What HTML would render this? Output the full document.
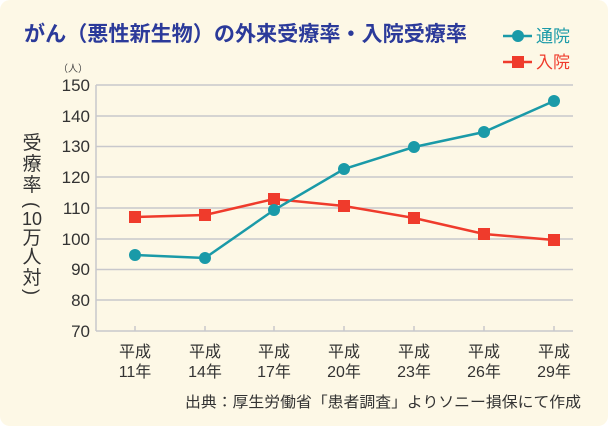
<!DOCTYPE html>
<html><head><meta charset="utf-8"><style>
html,body{margin:0;padding:0;background:#fff;}
body{width:608px;height:426px;overflow:hidden;}
</style></head><body>
<svg width="608" height="426" xmlns="http://www.w3.org/2000/svg" style="font-family:'Liberation Sans','Noto Sans CJK JP',sans-serif">
<rect x="0" y="0" width="608" height="426" rx="10" fill="#fdf8e6"/>
<text x="24" y="41" font-size="21" font-weight="bold" fill="#2b3a9a" textLength="443" lengthAdjust="spacingAndGlyphs">がん（悪性新生物）の外来受療率・入院受療率</text>
<line x1="503" y1="36" x2="532" y2="36" stroke="#1a9aa8" stroke-width="2.5"/>
<circle cx="518" cy="36" r="6" fill="#1a9aa8"/>
<text x="536" y="42" font-size="17" fill="#1a9aa8">通院</text>
<line x1="503" y1="62" x2="532" y2="62" stroke="#ef3b2c" stroke-width="2.5"/>
<rect x="512" y="56" width="12" height="12" fill="#ef3b2c"/>
<text x="536" y="68" font-size="17" fill="#ef3b2c">入院</text>
<text x="58" y="72" font-size="10" fill="#444">（人）</text>
<g stroke="#c8c8cc" stroke-width="1.5">
<line x1="96" y1="85" x2="573" y2="85"/><line x1="96" y1="116" x2="573" y2="116"/>
<line x1="96" y1="146.5" x2="573" y2="146.5"/><line x1="96" y1="177" x2="573" y2="177"/>
<line x1="96" y1="208" x2="573" y2="208"/><line x1="96" y1="239" x2="573" y2="239"/>
<line x1="96" y1="269.5" x2="573" y2="269.5"/><line x1="96" y1="300" x2="573" y2="300"/>
<line x1="96" y1="331" x2="573" y2="331"/><line x1="96" y1="85" x2="96" y2="331"/>
<line x1="135" y1="326" x2="135" y2="331"/><line x1="205" y1="326" x2="205" y2="331"/>
<line x1="274" y1="326" x2="274" y2="331"/><line x1="344" y1="326" x2="344" y2="331"/>
<line x1="414" y1="326" x2="414" y2="331"/><line x1="484" y1="326" x2="484" y2="331"/>
<line x1="554" y1="326" x2="554" y2="331"/>
</g>
<g font-size="17" fill="#333" text-anchor="end">
<text x="90" y="91">150</text><text x="90" y="122">140</text><text x="90" y="152">130</text>
<text x="90" y="183">120</text><text x="90" y="214">110</text><text x="90" y="245">100</text>
<text x="90" y="275">90</text><text x="90" y="306">80</text><text x="90" y="337">70</text>
</g>
<g font-size="19" fill="#333" text-anchor="middle">
<text x="32" y="149">受</text><text x="32" y="170">療</text><text x="32" y="191">率</text>
<text x="32" y="225" font-size="18">10</text>
<text x="32" y="244">万</text><text x="32" y="263">人</text><text x="32" y="284">対</text>
<text x="0" y="0" font-size="18" transform="translate(32,205) rotate(90)" dominant-baseline="central">(</text>
<text x="0" y="0" font-size="18" transform="translate(32,292) rotate(90)" dominant-baseline="central">)</text>
</g>
<g font-size="16" fill="#333" text-anchor="middle">
<text x="135" y="357">平成</text><text x="135" y="377">11年</text>
<text x="205" y="357">平成</text><text x="205" y="377">14年</text>
<text x="274" y="357">平成</text><text x="274" y="377">17年</text>
<text x="344" y="357">平成</text><text x="344" y="377">20年</text>
<text x="414" y="357">平成</text><text x="414" y="377">23年</text>
<text x="484" y="357">平成</text><text x="484" y="377">26年</text>
<text x="554" y="357">平成</text><text x="554" y="377">29年</text>
</g>
<text x="581" y="407" font-size="15" fill="#333" text-anchor="end" textLength="396" lengthAdjust="spacingAndGlyphs">出典：厚生労働省「患者調査」よりソニー損保にて作成</text>
<polyline points="135,217 205,215 274,199 344,206 414,218 484,234 554,240" fill="none" stroke="#ef3b2c" stroke-width="2.5"/>
<g fill="#ef3b2c">
<rect x="129" y="211" width="12" height="12"/><rect x="199" y="209" width="12" height="12"/>
<rect x="268" y="193" width="12" height="12"/><rect x="338" y="200" width="12" height="12"/>
<rect x="408" y="212" width="12" height="12"/><rect x="478" y="228" width="12" height="12"/>
<rect x="548" y="234" width="12" height="12"/>
</g>
<polyline points="135,255 205,258 274,210 344,169 414,147 484,132 554,101" fill="none" stroke="#1a9aa8" stroke-width="2.5"/>
<g fill="#1a9aa8">
<circle cx="135" cy="255" r="6"/><circle cx="205" cy="258" r="6"/><circle cx="274" cy="210" r="6"/>
<circle cx="344" cy="169" r="6"/><circle cx="414" cy="147" r="6"/><circle cx="484" cy="132" r="6"/>
<circle cx="554" cy="101" r="6"/>
</g>
</svg>
</body></html>
